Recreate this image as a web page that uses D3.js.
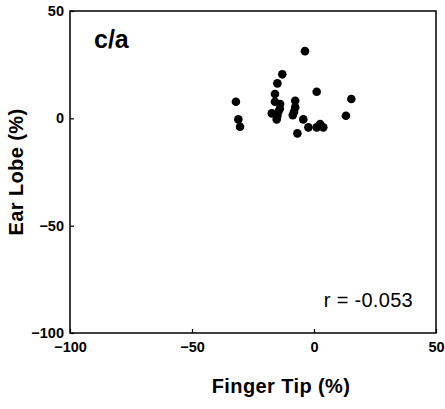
<!DOCTYPE html>
<html>
<head>
<meta charset="utf-8">
<script src="https://cdn.jsdelivr.net/npm/d3@7"></script>
<style>
  body { margin: 0; background: #fff; }
  text { font-family: "Liberation Sans", Arial, sans-serif; }
</style>
</head>
<body>
<div id="chart"></div>
<script>
// finger tip (%) vs ear lobe (%)
const fingerTip = [-3.7, -13.0, -15.0, 1.1, -32.0, 15.3, -16.0, -16.0, -13.9, -7.7, -7.7, -17.3, -14.6, -15.3, -8.7, -31.0, -30.3, 13.1, -4.4, -2.3, 1.1, 3.8, 2.5, -6.8, -15.0, -14.0, -8.2];
const earLobe   = [31.3, 20.5, 16.3, 12.4, 7.7, 9.0, 11.3, 7.7, 6.7, 8.2, 5.1, 2.3, 3.1, -0.5, 1.5, -0.5, -3.9, 1.2, -0.5, -4.2, -4.2, -4.2, -2.7, -7.0, 1.1, 4.5, 3.0];
const xTicks = [-100, -50, 0, 50];
const yTicks = [-100, -50, 0, 50];

const W = 445, H = 409;
const margin = { top: 11, right: 9, bottom: 76, left: 70 };

const svg = d3.select("#chart").append("svg")
    .attr("width", W)
    .attr("height", H);

const x = d3.scaleLinear().domain([-100, 50]).range([margin.left, W - margin.right]);
const y = d3.scaleLinear().domain([-100, 50]).range([H - margin.bottom, margin.top]);

// frame
svg.append("rect")
    .attr("x", x(-100))
    .attr("y", y(50))
    .attr("width", x(50) - x(-100))
    .attr("height", y(-100) - y(50))
    .attr("fill", "none")
    .attr("stroke", "#000")
    .attr("stroke-width", 1.5);

const xAxis = svg.append("g")
    .attr("transform", `translate(0,${y(-100)})`)
    .call(d3.axisBottom(x).tickValues(xTicks).tickSize(-4).tickPadding(9));
xAxis.select(".domain").remove();
xAxis.selectAll("line").attr("stroke-width", 1.2);
xAxis.selectAll("text")
    .style("font-size", "14.5px")
    .style("font-weight", "bold")
    .attr("fill", "#000");

const yAxis = svg.append("g")
    .attr("transform", `translate(${x(-100)},0)`)
    .call(d3.axisLeft(y).tickValues(yTicks).tickSize(-4).tickPadding(6));
yAxis.select(".domain").remove();
yAxis.selectAll("line").attr("stroke-width", 1.2);
yAxis.selectAll("text")
    .style("font-size", "14.5px")
    .style("font-weight", "bold")
    .attr("fill", "#000");

// points
svg.append("g")
    .selectAll("circle")
    .data(fingerTip.map((d, i) => [d, earLobe[i]]))
    .enter()
    .append("circle")
    .attr("cx", d => x(d[0]))
    .attr("cy", d => y(d[1]))
    .attr("r", 4.3)
    .attr("fill", "#000");

svg.append("text")
    .attr("x", 94)
    .attr("y", 48)
    .style("font-size", "25px")
    .style("font-weight", "bold")
    .text("c/a");

svg.append("text")
    .attr("x", 413)
    .attr("y", 307)
    .attr("text-anchor", "end")
    .style("font-size", "20px")
    .style("letter-spacing", "0.3px")
    .text("r = -0.053");

svg.append("text")
    .attr("x", 281)
    .attr("y", 393)
    .attr("text-anchor", "middle")
    .style("font-size", "20px")
    .style("font-weight", "bold")
    .style("letter-spacing", "0.4px")
    .text("Finger Tip (%)");

svg.append("text")
    .attr("transform", `translate(23,${(y(50) + y(-100)) / 2}) rotate(-90)`)
    .attr("text-anchor", "middle")
    .style("font-size", "20px")
    .style("font-weight", "bold")
    .style("letter-spacing", "0.4px")
    .text("Ear Lobe (%)");
</script>
</body>
</html>
